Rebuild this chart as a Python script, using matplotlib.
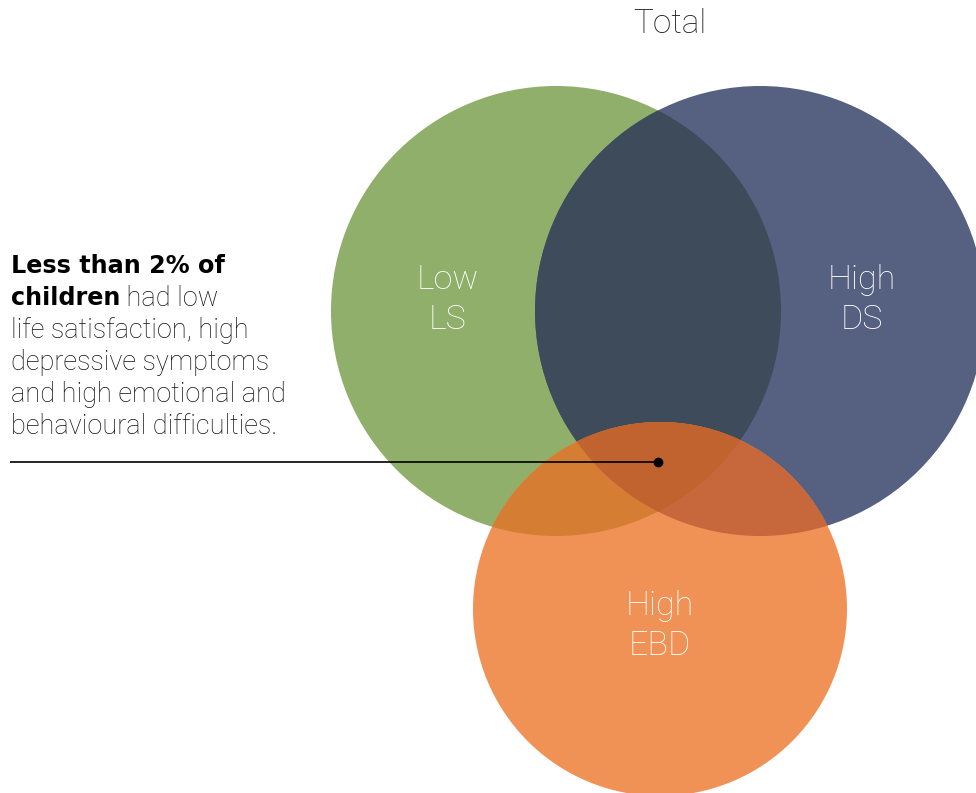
import matplotlib
matplotlib.use("Agg")
import matplotlib.pyplot as plt
from matplotlib.patches import Circle, PathPatch
from matplotlib.path import Path
import numpy as np

# Data
set_labels = ["Low\nLS", "High\nDS", "High\nEBD"]
set_radii = [225, 225, 187]
title = "Total"
note_bold = ["Less than 2% of", "children"]
note_rest = [" had low", "life satisfaction, high", "depressive symptoms",
             "and high emotional and", "behavioural difficulties."]

# Layout / style
centers = [(556, 311), (760, 311), (660, 609)]
label_pos = [(448, 300), (862, 300), (660, 626)]
base_colors = ["#8FAF6A", "#566080", "#F09256"]
c_gb = "#3D4B5A"
c_go = "#D57E33"
c_bo = "#C6683B"
c_all = "#C0632F"

plt.rcParams['font.family'] = ['Roboto', 'DejaVu Sans']
fig = plt.figure(figsize=(9.76, 7.93), dpi=100)
ax = fig.add_axes([0, 0, 1, 1])
ax.set_xlim(0, 976)
ax.set_ylim(793, 0)
ax.set_aspect('equal')
ax.axis('off')

def clip_circle(j):
    return Circle(centers[j], set_radii[j], transform=ax.transData)

def circ(i, color, z, clip=None):
    p = Circle(centers[i], set_radii[i], facecolor=color, edgecolor='none', zorder=z)
    ax.add_patch(p)
    if clip is not None:
        p.set_clip_path(clip)
    return p

circ(0, base_colors[0], 1)
circ(1, base_colors[1], 1)
circ(2, base_colors[2], 2)
circ(1, c_gb, 3, clip=clip_circle(0))
circ(2, c_go, 4, clip=clip_circle(0))
circ(2, c_bo, 4, clip=clip_circle(1))

# lens of green & blue as a path, used to clip the triple region
t = np.linspace(0, 2*np.pi, 1440)
def ring(i):
    cx, cy = centers[i]
    r = set_radii[i]
    return np.column_stack([cx + r*np.cos(t), cy + r*np.sin(t)])
def inside(P, j):
    cx, cy = centers[j]
    return (P[:, 0]-cx)**2 + (P[:, 1]-cy)**2 <= set_radii[j]**2
A, B = ring(0), ring(1)
L = np.vstack([A[inside(A, 1)], B[inside(B, 0)]])
c = L.mean(axis=0)
ang = np.arctan2(L[:, 1]-c[1], L[:, 0]-c[0])
L = L[np.argsort(ang)]
L = np.vstack([L, L[:1]])
lens_patch = PathPatch(Path(L), transform=ax.transData)
circ(2, c_all, 5, clip=lens_patch)

# labels
for (x, y), lab in zip(label_pos, set_labels):
    ax.text(x, y, lab, color='white', fontsize=24.5, fontweight='light',
            ha='center', va='center', linespacing=1.35, zorder=10)

ax.text(670, 24, title, color='#222222', fontsize=24, fontweight='light',
        ha='center', va='center', zorder=10)

# annotation text
x0 = 11
y0 = 266
dy = 32
fs = 19.5
bold_font = dict(family=['DejaVu Sans'], fontweight='bold', fontsize=17.2)
ax.text(x0, y0, note_bold[0], color='black', ha='left', va='center', **bold_font)
tb = ax.text(x0, y0 + dy, note_bold[1], color='black', ha='left', va='center', **bold_font)
fig.canvas.draw()
bb = tb.get_window_extent(renderer=fig.canvas.get_renderer())
x_end = ax.transData.inverted().transform((bb.x1, bb.y0))[0]
ax.text(x_end, y0 + dy, note_rest[0], fontsize=fs, fontweight='light', color='#111111',
        ha='left', va='center')
for k, line in enumerate(note_rest[1:]):
    ax.text(x0, y0 + dy*(k+2), line, fontsize=fs, fontweight='light', color='#111111',
            ha='left', va='center')

# pointer line
ax.plot([10, 658], [462, 462], color='black', lw=1.2, zorder=11, solid_capstyle='butt')
ax.plot([658], [462], 'o', color='black', ms=6, zorder=12)

fig.savefig('out.png', dpi=100)
